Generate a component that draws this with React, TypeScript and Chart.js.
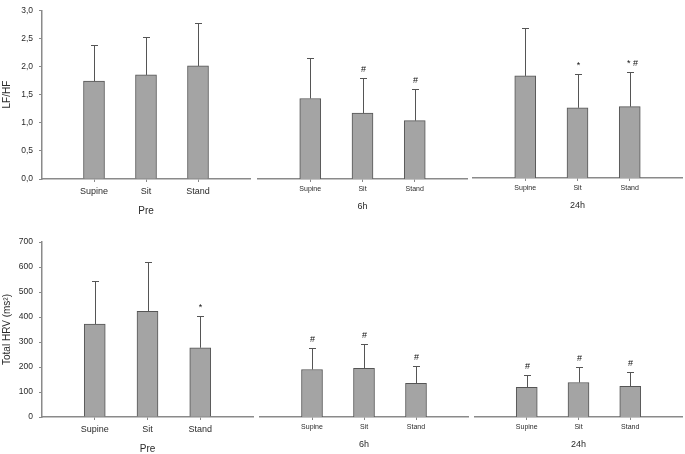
import React, { useEffect, useRef } from "react";
import { Chart, registerables } from "chart.js";

Chart.register(...registerables);

// ---------- data ----------
const categories = ["Supine", "Sit", "Stand"];

const lfhfTickLabels = ["0,0", "0,5", "1,0", "1,5", "2,0", "2,5", "3,0"];
const hrvTickLabels = ["0", "100", "200", "300", "400", "500", "600", "700"];

const preLfhf = [1.74, 1.85, 2.01];
const preLfhfSd = [0.65, 0.68, 0.77];
const preLfhfMarks = ["", "", ""];

const h6Lfhf = [1.38, 1.13, 1.0];
const h6LfhfSd = [0.69, 0.6, 0.55];
const h6LfhfMarks = ["", "#", "#"];

const h24Lfhf = [1.76, 1.21, 1.23];
const h24LfhfSd = [0.82, 0.58, 0.6];
const h24LfhfMarks = ["", "*", "* #"];

const preHrv = [372, 423, 277];
const preHrvSd = [172, 198, 128];
const preHrvMarks = ["", "", "*"];

const h6Hrv = [190, 195, 135];
const h6HrvSd = [87, 98, 69];
const h6HrvMarks = ["#", "#", "#"];

const h24Hrv = [119, 138, 123];
const h24HrvSd = [49, 64, 56];
const h24HrvMarks = ["#", "#", "#"];

// ---------- layout ----------
const W = 685;
const H = 454;
const FONT = "'Liberation Sans', Arial, Helvetica, sans-serif";
const AXIS = "#8a8a8a";
const TEXT = "#2a2a2a";

type Panel = {
  values: number[];
  sd: number[];
  marks: string[];
  title: string;
  showY: boolean;
  yTitle: string;
  yMax: number;
  yStep: number;
  yLabels: string[];
  left: number;
  right: number;
  top: number;
  bottom: number;
  xHeight: number;
  xFont: number;
  xPad: number;
  titleFont: number;
};

const panels: Panel[] = [
  { values: preLfhf, sd: preLfhfSd, marks: preLfhfMarks, title: "Pre", showY: true, yTitle: "LF/HF", yMax: 3, yStep: 0.5, yLabels: lfhfTickLabels, left: 42, right: 250, top: 4, bottom: 179, xHeight: 37, xFont: 9, xPad: 4, titleFont: 10 },
  { values: h6Lfhf, sd: h6LfhfSd, marks: h6LfhfMarks, title: "6h", showY: false, yTitle: "", yMax: 3, yStep: 0.5, yLabels: lfhfTickLabels, left: 258, right: 467, top: 4, bottom: 179, xHeight: 32, xFont: 7, xPad: 3, titleFont: 9 },
  { values: h24Lfhf, sd: h24LfhfSd, marks: h24LfhfMarks, title: "24h", showY: false, yTitle: "", yMax: 3, yStep: 0.5, yLabels: lfhfTickLabels, left: 473, right: 682, top: 4, bottom: 178, xHeight: 32, xFont: 7, xPad: 3, titleFont: 9 },
  { values: preHrv, sd: preHrvSd, marks: preHrvMarks, title: "Pre", showY: true, yTitle: "Total HRV (ms²)", yMax: 700, yStep: 100, yLabels: hrvTickLabels, left: 42, right: 253, top: 242, bottom: 417, xHeight: 37, xFont: 9, xPad: 4, titleFont: 10 },
  { values: h6Hrv, sd: h6HrvSd, marks: h6HrvMarks, title: "6h", showY: false, yTitle: "", yMax: 700, yStep: 100, yLabels: hrvTickLabels, left: 260, right: 468, top: 242, bottom: 417, xHeight: 32, xFont: 7, xPad: 3, titleFont: 9 },
  { values: h24Hrv, sd: h24HrvSd, marks: h24HrvMarks, title: "24h", showY: false, yTitle: "", yMax: 700, yStep: 100, yLabels: hrvTickLabels, left: 475, right: 683, top: 242, bottom: 417, xHeight: 32, xFont: 7, xPad: 3, titleFont: 9 },
];

function makeErrPlugin(p: Panel) {
  return {
    id: "errbars",
    afterDatasetsDraw(chart: any) {
      const meta = chart.getDatasetMeta(0);
      const ys = chart.scales.y;
      const ctx = chart.ctx;
      ctx.save();
      p.values.forEach((v, i) => {
        const el = meta.data[i + 1];
        if (!el) return;
        const x = Math.round(el.x) + 0.5;
        const y0 = ys.getPixelForValue(v);
        const y1 = Math.round(ys.getPixelForValue(v + p.sd[i])) + 0.5;
        ctx.strokeStyle = "#555555";
        ctx.lineWidth = 1;
        ctx.beginPath();
        ctx.moveTo(x, y0);
        ctx.lineTo(x, y1);
        ctx.moveTo(x - 3.5, y1);
        ctx.lineTo(x + 3.5, y1);
        ctx.stroke();
        const m = p.marks[i];
        if (m) {
          ctx.fillStyle = "#111";
          ctx.font = `9px ${FONT}`;
          ctx.textAlign = "center";
          ctx.textBaseline = "bottom";
          ctx.fillText(m, x + (m.length > 1 ? 2 : 0), y1 - 4);
        }
      });
      ctx.restore();
    },
  };
}

function PanelChart({ p }: { p: Panel }) {
  const ref = useRef<HTMLCanvasElement | null>(null);
  useEffect(() => {
    if (!ref.current) return;
    const labels = ["", ...categories, ""];
    const chart = new Chart(ref.current, {
      type: "bar",
      data: {
        labels,
        datasets: [
          {
            data: [null, ...p.values, null] as any,
            backgroundColor: "#a4a4a4",
            borderColor: "#555555",
            borderWidth: 1,
            barThickness: 21,
          },
        ],
      },
      options: {
        responsive: false,
        animation: false,
        events: [],
        layout: {
          padding: {
            left: p.showY ? 0 : p.left,
            right: W - p.right,
            top: p.top,
            bottom: H - p.bottom - p.xHeight,
          },
        },
        plugins: {
          legend: { display: false },
          tooltip: { enabled: false },
        },
        scales: {
          x: {
            type: "category",
            offset: false,
            grid: {
              offset: false,
              drawOnChartArea: false,
              drawTicks: true,
              tickLength: 3,
              tickColor: (c: any) =>
                c.index === 0 || c.index === labels.length - 1 ? "rgba(0,0,0,0)" : AXIS,
            },
            border: { display: true, color: AXIS, width: 1.5 },
            ticks: {
              autoSkip: false,
              maxRotation: 0,
              color: TEXT,
              padding: p.xPad,
              font: { family: FONT, size: p.xFont },
            },
            title: {
              display: true,
              text: p.title,
              color: TEXT,
              padding: 0,
              font: { family: FONT, size: p.titleFont, lineHeight: 1 },
            },
            afterFit: (s: any) => {
              s.height = p.xHeight;
            },
          },
          y: {
            display: p.showY,
            min: 0,
            max: p.yMax,
            grid: {
              drawOnChartArea: false,
              drawTicks: true,
              tickLength: 3,
              tickColor: AXIS,
            },
            border: { display: true, color: AXIS, width: 1.5 },
            ticks: {
              stepSize: p.yStep,
              color: TEXT,
              padding: 6,
              font: { family: FONT, size: 8.5, lineHeight: 1 },
              callback: (_v: any, i: number) => p.yLabels[i],
            },
            title: {
              display: p.showY,
              text: p.yTitle,
              color: TEXT,
              padding: { top: 1.5, bottom: 0 },
              font: { family: FONT, size: 10, lineHeight: 1.2 },
            },
            afterFit: (s: any) => {
              s.width = p.showY ? p.left : 0;
            },
          },
        },
      } as any,
      plugins: [makeErrPlugin(p)],
    });
    return () => chart.destroy();
  }, [p]);
  return (
    <canvas
      ref={ref}
      width={W}
      height={H}
      style={{ position: "absolute", left: 0, top: 0, width: W, height: H }}
    />
  );
}

export default function App() {
  return (
    <div
      style={{
        position: "absolute",
        left: 0,
        top: 0,
        width: W,
        height: H,
        background: "#ffffff",
        overflow: "hidden",
      }}
    >
      {panels.map((p, i) => (
        <PanelChart key={i} p={p} />
      ))}
    </div>
  );
}
